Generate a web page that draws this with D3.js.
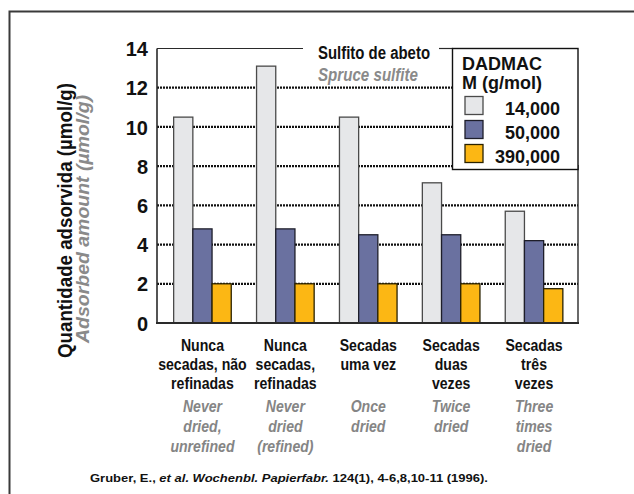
<!DOCTYPE html>
<html>
<head>
<meta charset="utf-8">
<script src="https://cdn.jsdelivr.net/npm/d3@7"></script>
<style>
  html, body { margin: 0; padding: 0; background: #fff; }
  svg { display: block; }
  .sans { font-family: "Liberation Sans", Arial, Helvetica, sans-serif; }
</style>
</head>
<body>
<svg id="chart" width="634" height="494"></svg>
<script>
// Adsorbed DADMAC on spruce sulfite pulp, by drying history
const categoriesPt = [
  ["Nunca", "secadas, não", "refinadas"],
  ["Nunca", "secadas,", "refinadas"],
  ["Secadas", "uma vez"],
  ["Secadas", "duas", "vezes"],
  ["Secadas", "três", "vezes"]
];
const categoriesEn = [
  ["Never", "dried,", "unrefined"],
  ["Never", "dried", "(refined)"],
  ["Once", "dried"],
  ["Twice", "dried"],
  ["Three", "times", "dried"]
];
const seriesNames = ["14,000", "50,000", "390,000"];
const values14k = [10.5, 13.1, 10.5, 7.15, 5.7];
const values50k = [4.8, 4.8, 4.5, 4.5, 4.2];
const values390k = [2.0, 2.0, 2.0, 2.0, 1.75];
const yTicks = [0, 2, 4, 6, 8, 10, 12, 14];
const seriesColors = ["#e6e7e9", "#6a71a0", "#fcb714"];
const seriesStrokes = ["#4a4a4a", "#1e1e2a", "#2a2200"];

const seriesValues = [values14k, values50k, values390k];

const svg = d3.select("#chart");

// outer frame (open to the right and bottom)
svg.append("rect")
  .attr("x", 9.5).attr("y", 11.5)
  .attr("width", 700).attr("height", 600)
  .attr("fill", "none").attr("stroke", "#3a3a3a").attr("stroke-width", 2);

const plot = { left: 157, right: 578, top: 48.5, bottom: 323 };

const y = d3.scaleLinear().domain([0, 14]).range([plot.bottom, plot.top]);
const x = d3.scaleBand().domain(d3.range(categoriesPt.length)).range([161, 575.5]).padding(0);
const xInner = d3.scaleBand().domain(d3.range(seriesNames.length)).range([0, 57.6]);
const groupOffset = (x.bandwidth() - xInner.range()[1]) / 2;

// dotted gridlines
svg.append("g")
  .selectAll("line")
  .data(yTicks.filter(t => t > 0 && t < 14))
  .join("line")
  .attr("x1", plot.left).attr("x2", plot.right)
  .attr("y1", d => y(d)).attr("y2", d => y(d))
  .attr("stroke", "#111").attr("stroke-width", 2.2)
  .attr("stroke-dasharray", "2,1");

// bars
const groups = svg.append("g")
  .selectAll("g")
  .data(categoriesPt.map((c, i) => i))
  .join("g")
  .attr("transform", i => `translate(${x(i) + groupOffset},0)`);

groups.selectAll("rect")
  .data(i => seriesValues.map((vals, s) => ({ s, v: vals[i] })))
  .join("rect")
  .attr("x", d => xInner(d.s))
  .attr("width", xInner.bandwidth())
  .attr("y", d => y(d.v))
  .attr("height", d => y(0) - y(d.v))
  .attr("fill", d => seriesColors[d.s])
  .attr("stroke", d => seriesStrokes[d.s])
  .attr("stroke-width", 1.3);

// axis frame: left, top (with gap for the title), right and baseline
const frame = svg.append("g").attr("fill", "none");
frame.append("line")
  .attr("x1", plot.left).attr("x2", plot.left)
  .attr("y1", plot.top).attr("y2", plot.bottom)
  .attr("stroke", "#2a2a2a").attr("stroke-width", 1.6);
frame.append("line")
  .attr("x1", plot.left).attr("x2", 303)
  .attr("y1", plot.top).attr("y2", plot.top)
  .attr("stroke", "#2a2a2a").attr("stroke-width", 1.2);
frame.append("line")
  .attr("x1", 439).attr("x2", 453)
  .attr("y1", plot.top).attr("y2", plot.top)
  .attr("stroke", "#2a2a2a").attr("stroke-width", 1.2);
frame.append("line")
  .attr("x1", plot.right).attr("x2", plot.right)
  .attr("y1", 165).attr("y2", plot.bottom)
  .attr("stroke", "#2a2a2a").attr("stroke-width", 1.4);
frame.append("line")
  .attr("x1", plot.left - 1).attr("x2", plot.right + 1)
  .attr("y1", plot.bottom).attr("y2", plot.bottom)
  .attr("stroke", "#2a2a2a").attr("stroke-width", 2.2);

// y tick labels
const yAxis = d3.axisLeft(y).tickValues(yTicks).tickSize(0).tickPadding(9);
const yg = svg.append("g").attr("transform", `translate(${plot.left},0)`).call(yAxis);
yg.select(".domain").remove();
yg.selectAll("text")
  .attr("class", "sans")
  .attr("font-size", 20).attr("font-weight", "bold").attr("fill", "#111")
  .attr("dy", "0.36em");

// y axis titles
svg.append("text")
  .attr("class", "sans")
  .attr("transform", "translate(72,220.5) rotate(-90)")
  .attr("text-anchor", "middle")
  .attr("font-size", 19.5).attr("font-weight", "bold").attr("fill", "#111")
  .attr("textLength", 275).attr("lengthAdjust", "spacingAndGlyphs")
  .text("Quantidade adsorvida (µmol/g)");
svg.append("text")
  .attr("class", "sans")
  .attr("transform", "translate(89,219) rotate(-90)")
  .attr("text-anchor", "middle")
  .attr("font-size", 19).attr("font-weight", "bold").attr("font-style", "italic").attr("fill", "#8a8a8a")
  .attr("textLength", 248).attr("lengthAdjust", "spacingAndGlyphs")
  .text("Adsorbed amount (µmol/g)");

// chart title
svg.append("text")
  .attr("class", "sans")
  .attr("x", 318).attr("y", 58.5)
  .attr("font-size", 18).attr("font-weight", "bold").attr("fill", "#111")
  .attr("textLength", 112).attr("lengthAdjust", "spacingAndGlyphs")
  .text("Sulfito de abeto");
svg.append("text")
  .attr("class", "sans")
  .attr("x", 318).attr("y", 80.5)
  .attr("font-size", 18).attr("font-weight", "bold").attr("font-style", "italic").attr("fill", "#8a8a8a")
  .attr("textLength", 100).attr("lengthAdjust", "spacingAndGlyphs")
  .text("Spruce sulfite");

// legend
const legend = svg.append("g");
legend.append("rect")
  .attr("x", 452.5).attr("y", 48.5).attr("width", 125.5).attr("height", 121)
  .attr("fill", "#fff").attr("stroke", "#111").attr("stroke-width", 1.4);
legend.append("text").attr("class", "sans")
  .attr("x", 462).attr("y", 70)
  .attr("font-size", 18).attr("font-weight", "bold").attr("fill", "#111")
  .text("DADMAC");
legend.append("text").attr("class", "sans")
  .attr("x", 462).attr("y", 88.5)
  .attr("font-size", 18).attr("font-weight", "bold").attr("fill", "#111")
  .text("M (g/mol)");
const legendY = d3.scaleBand().domain(d3.range(seriesNames.length)).range([96, 168]);
const items = legend.selectAll("g.item")
  .data(seriesNames.map((n, i) => ({ n, i })))
  .join("g").attr("class", "item")
  .attr("transform", d => `translate(0,${legendY(d.i)})`);
items.append("rect")
  .attr("x", 465).attr("y", 0.5).attr("width", 18).attr("height", 18)
  .attr("fill", d => seriesColors[d.i])
  .attr("stroke", d => seriesStrokes[d.i]).attr("stroke-width", 1.3);
items.append("text").attr("class", "sans")
  .attr("x", 560).attr("y", 18.5)
  .attr("text-anchor", "end")
  .attr("font-size", 18).attr("font-weight", "bold").attr("fill", "#111")
  .text(d => d.n);

// category labels (condensed by horizontal scaling)
const catLabels = svg.append("g")
  .selectAll("g")
  .data(categoriesPt.map((c, i) => i))
  .join("g")
  .attr("transform", i => `translate(${x(i) + x.bandwidth() / 2},0)`);
catLabels.selectAll("text.pt")
  .data(i => categoriesPt[i])
  .join("text").attr("class", "pt sans")
  .attr("transform", (d, k) => `translate(0,${350.5 + k * 19.3}) scale(0.83,1)`)
  .attr("text-anchor", "middle")
  .attr("font-size", 17).attr("font-weight", "bold").attr("fill", "#111")
  .text(d => d);
catLabels.selectAll("text.en")
  .data(i => categoriesEn[i])
  .join("text").attr("class", "en sans")
  .attr("transform", (d, k) => `translate(0,${411.5 + k * 20}) scale(0.88,1)`)
  .attr("text-anchor", "middle")
  .attr("font-size", 16).attr("font-weight", "bold").attr("font-style", "italic").attr("fill", "#858585")
  .text(d => d);

// source note
const src = svg.append("text").attr("class", "sans")
  .attr("x", 90).attr("y", 481.5)
  .attr("font-size", 11.5).attr("font-weight", "bold").attr("fill", "#111")
  .attr("textLength", 398).attr("lengthAdjust", "spacingAndGlyphs");
src.append("tspan").text("Gruber, E., ");
src.append("tspan").attr("font-style", "italic").text("et al. Wochenbl. Papierfabr.");
src.append("tspan").text(" 124(1), 4-6,8,10-11 (1996).");
</script>
</body>
</html>
